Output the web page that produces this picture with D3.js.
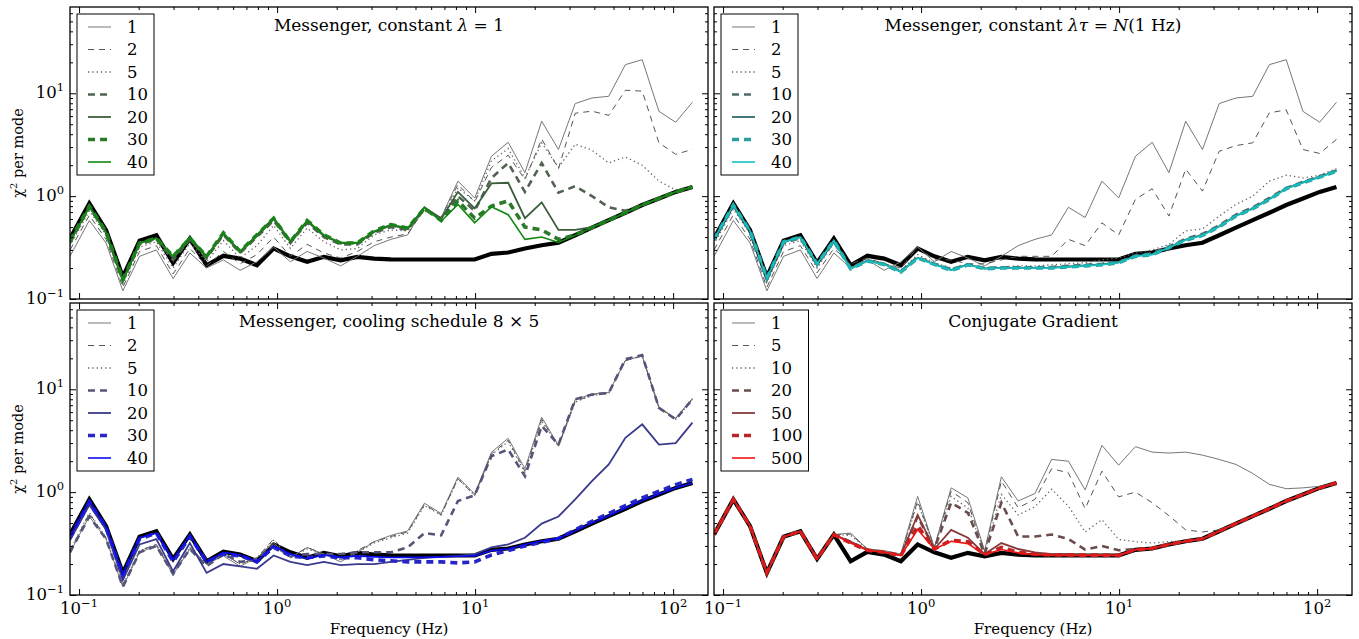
<!DOCTYPE html>
<html>
<head>
<meta charset="utf-8">
<script src="https://cdn.jsdelivr.net/npm/d3@7"></script>
<style>
  body { margin: 0; background: #fff; }
  svg { display: block; font-family: "DejaVu Serif", serif; }
</style>
</head>
<body>
<svg id="chart" width="1359" height="639"></svg>
<script>
// frequency bins (Hz)
const freqs = [0.09, 0.1127, 0.1369, 0.1664, 0.2021, 0.2457, 0.2985, 0.3627, 0.4407, 0.5355,
  0.6507, 0.7907, 0.9607, 1.167, 1.418, 1.723, 2.094, 2.544, 3.092, 3.757,
  4.565, 5.546, 6.739, 8.189, 9.95, 12.09, 14.69, 17.85, 21.69, 26.36,
  32.02, 38.9, 47.3, 57.4, 69.8, 84.8, 103.0, 125.2];

// thick black reference curve (same in every panel)
const converged = [0.387, 0.85, 0.467, 0.164, 0.368, 0.417, 0.224, 0.387, 0.213, 0.263,
  0.247, 0.213, 0.31, 0.26, 0.23, 0.257, 0.238, 0.257, 0.247, 0.243,
  0.242, 0.242, 0.242, 0.242, 0.242, 0.275, 0.283, 0.31, 0.333, 0.352,
  0.417, 0.495, 0.584, 0.69, 0.82, 0.95, 1.10, 1.23];

// first messenger iteration (shared by the three messenger panels)
const messenger1 = [0.26, 0.58, 0.35, 0.12, 0.26, 0.30, 0.158, 0.28, 0.2, 0.24,
  0.19, 0.23, 0.32, 0.23, 0.29, 0.25, 0.21, 0.26, 0.33, 0.38,
  0.42, 0.78, 0.62, 1.40, 0.96, 2.44, 3.34, 1.69, 5.35, 2.84,
  7.94, 9.0, 9.35, 19.0, 21.2, 6.68, 5.23, 8.18];

// Messenger, constant lambda = 1
const lam2 = [0.3, 0.65, 0.38, 0.13, 0.29, 0.33, 0.175, 0.31, 0.21, 0.29, 0.22, 0.27, 0.40, 0.26, 0.34, 0.28, 0.25, 0.29, 0.36, 0.40, 0.43, 0.74, 0.62, 1.3, 0.88, 1.9, 2.5, 1.45, 3.6, 1.85, 6.4, 6.7, 6.1, 10.7, 10.5, 3.3, 2.55, 2.85];
const lam5 = [0.33, 0.72, 0.42, 0.14, 0.32, 0.36, 0.2, 0.35, 0.23, 0.37, 0.25, 0.33, 0.52, 0.31, 0.49, 0.36, 0.3, 0.31, 0.42, 0.47, 0.46, 0.72, 0.6, 1.2, 0.9, 2.2, 2.9, 1.5, 3.3, 1.9, 3.2, 2.8, 2.1, 2.4, 2.0, 1.4, 1.15, 1.22];
const lam10 = [0.35, 0.78, 0.44, 0.15, 0.34, 0.38, 0.24, 0.38, 0.25, 0.42, 0.28, 0.4, 0.58, 0.35, 0.55, 0.4, 0.34, 0.34, 0.44, 0.5, 0.47, 0.75, 0.6, 1.0, 0.72, 1.5, 2.1, 1.1, 2.1, 1.08, 1.25, 1.0, 0.78, 0.72, 0.82, 0.95, 1.10, 1.23];
const lam20 = [0.36, 0.8, 0.45, 0.155, 0.35, 0.39, 0.25, 0.38, 0.26, 0.43, 0.29, 0.41, 0.6, 0.36, 0.57, 0.41, 0.35, 0.35, 0.45, 0.52, 0.48, 0.78, 0.6, 1.1, 0.76, 1.33, 1.35, 0.61, 0.87, 0.47, 0.47, 0.5, 0.585, 0.69, 0.82, 0.95, 1.10, 1.23];
const lam30 = [0.37, 0.8, 0.45, 0.155, 0.35, 0.39, 0.26, 0.39, 0.26, 0.44, 0.29, 0.42, 0.61, 0.36, 0.58, 0.42, 0.35, 0.35, 0.46, 0.53, 0.49, 0.76, 0.58, 0.9, 0.61, 0.8, 0.9, 0.5, 0.47, 0.38, 0.42, 0.495, 0.584, 0.69, 0.82, 0.95, 1.10, 1.23];
const lam40 = [0.36, 0.78, 0.44, 0.15, 0.35, 0.39, 0.26, 0.40, 0.26, 0.44, 0.29, 0.42, 0.62, 0.365, 0.58, 0.42, 0.353, 0.353, 0.457, 0.53, 0.49, 0.77, 0.57, 0.83, 0.55, 0.79, 0.66, 0.38, 0.40, 0.355, 0.417, 0.495, 0.584, 0.69, 0.82, 0.95, 1.10, 1.23];

// Messenger, constant lambda*tau = N(1 Hz)
const tau2 = [0.3, 0.66, 0.38, 0.13, 0.29, 0.33, 0.18, 0.31, 0.22, 0.25, 0.22, 0.2, 0.32, 0.24, 0.24, 0.22, 0.22, 0.24, 0.26, 0.26, 0.26, 0.38, 0.33, 0.55, 0.42, 0.93, 1.18, 0.64, 1.83, 1.12, 2.73, 3.1, 3.3, 6.45, 6.9, 2.84, 2.6, 3.56];
const tau5 = [0.34, 0.75, 0.43, 0.145, 0.33, 0.37, 0.2, 0.35, 0.2, 0.24, 0.22, 0.19, 0.27, 0.225, 0.2, 0.215, 0.2, 0.205, 0.21, 0.21, 0.215, 0.22, 0.225, 0.24, 0.25, 0.28, 0.3, 0.34, 0.46, 0.48, 0.64, 0.83, 1.0, 1.4, 1.6, 1.5, 1.6, 1.85];
const tau10 = [0.37, 0.8, 0.45, 0.155, 0.35, 0.39, 0.215, 0.36, 0.2, 0.238, 0.22, 0.187, 0.255, 0.22, 0.195, 0.218, 0.2, 0.203, 0.203, 0.203, 0.205, 0.21, 0.215, 0.22, 0.23, 0.265, 0.28, 0.325, 0.385, 0.43, 0.52, 0.66, 0.78, 0.96, 1.2, 1.38, 1.56, 1.78];
const tau20 = [0.38, 0.81, 0.46, 0.158, 0.36, 0.40, 0.22, 0.37, 0.198, 0.235, 0.218, 0.184, 0.252, 0.218, 0.192, 0.216, 0.198, 0.201, 0.201, 0.201, 0.202, 0.207, 0.212, 0.217, 0.227, 0.262, 0.273, 0.318, 0.378, 0.42, 0.51, 0.645, 0.76, 0.94, 1.19, 1.36, 1.54, 1.76];
const tau30 = [0.38, 0.82, 0.46, 0.16, 0.36, 0.40, 0.22, 0.37, 0.197, 0.234, 0.217, 0.183, 0.25, 0.217, 0.19, 0.215, 0.197, 0.2, 0.2, 0.2, 0.2, 0.205, 0.21, 0.215, 0.225, 0.26, 0.27, 0.315, 0.374, 0.415, 0.505, 0.64, 0.755, 0.93, 1.18, 1.35, 1.53, 1.75];
const tau40 = [0.38, 0.82, 0.46, 0.16, 0.36, 0.40, 0.22, 0.37, 0.197, 0.234, 0.217, 0.183, 0.25, 0.217, 0.19, 0.215, 0.197, 0.2, 0.2, 0.2, 0.2, 0.205, 0.21, 0.215, 0.225, 0.26, 0.27, 0.315, 0.374, 0.415, 0.505, 0.64, 0.755, 0.93, 1.18, 1.35, 1.53, 1.75];

// Messenger, cooling schedule 8 x 5
const cool2 = [0.27, 0.62, 0.36, 0.125, 0.27, 0.31, 0.16, 0.29, 0.2, 0.25, 0.2, 0.23, 0.35, 0.23, 0.29, 0.25, 0.22, 0.27, 0.33, 0.37, 0.41, 0.76, 0.6, 1.35, 0.93, 2.35, 3.2, 1.6, 5.1, 2.8, 7.6, 8.8, 9.2, 19.0, 21.0, 6.6, 5.2, 8.0];
const cool5 = [0.27, 0.63, 0.36, 0.125, 0.27, 0.31, 0.16, 0.29, 0.2, 0.25, 0.2, 0.23, 0.34, 0.23, 0.28, 0.25, 0.22, 0.26, 0.32, 0.36, 0.40, 0.74, 0.6, 1.35, 0.93, 2.3, 3.1, 1.55, 4.9, 2.8, 7.5, 8.7, 9.1, 19.2, 21.2, 6.6, 5.1, 8.0];
const cool10 = [0.26, 0.58, 0.35, 0.12, 0.26, 0.30, 0.16, 0.28, 0.19, 0.25, 0.21, 0.22, 0.3, 0.24, 0.25, 0.25, 0.25, 0.26, 0.26, 0.26, 0.29, 0.40, 0.38, 0.82, 0.93, 2.24, 2.6, 1.43, 4.4, 2.9, 8.0, 8.9, 9.2, 19.6, 21.5, 6.6, 5.1, 8.0];
const cool20 = [0.34, 0.75, 0.43, 0.14, 0.31, 0.35, 0.17, 0.32, 0.164, 0.2, 0.19, 0.18, 0.242, 0.21, 0.195, 0.21, 0.195, 0.2, 0.2, 0.21, 0.22, 0.23, 0.235, 0.24, 0.25, 0.29, 0.31, 0.36, 0.495, 0.58, 0.85, 1.28, 1.86, 3.38, 4.56, 2.9, 3.0, 4.74];
const cool30 = [0.36, 0.8, 0.45, 0.155, 0.35, 0.4, 0.21, 0.37, 0.21, 0.25, 0.24, 0.21, 0.29, 0.24, 0.23, 0.24, 0.23, 0.23, 0.22, 0.215, 0.21, 0.21, 0.21, 0.205, 0.21, 0.245, 0.27, 0.30, 0.325, 0.355, 0.43, 0.52, 0.62, 0.74, 0.88, 1.02, 1.18, 1.33];
const cool40 = [0.37, 0.83, 0.46, 0.16, 0.36, 0.40, 0.22, 0.38, 0.21, 0.26, 0.245, 0.212, 0.3, 0.25, 0.225, 0.245, 0.232, 0.24, 0.235, 0.232, 0.232, 0.232, 0.235, 0.238, 0.24, 0.27, 0.28, 0.31, 0.335, 0.355, 0.42, 0.5, 0.59, 0.7, 0.83, 0.96, 1.1, 1.22];

// Conjugate Gradient
const cg1 = [0.387, 0.85, 0.467, 0.164, 0.368, 0.417, 0.224, 0.387, 0.40, 0.28, 0.27, 0.25, 0.91, 0.29, 1.10, 0.88, 0.27, 1.41, 0.82, 0.97, 2.08, 2.0, 1.05, 2.85, 1.83, 2.77, 2.45, 2.4, 2.45, 2.29, 2.08, 1.86, 1.52, 1.19, 1.08, 1.1, 1.14, 1.22];
const cg5 = [0.387, 0.85, 0.467, 0.164, 0.368, 0.417, 0.224, 0.387, 0.39, 0.28, 0.265, 0.245, 0.82, 0.29, 1.02, 0.79, 0.26, 1.28, 0.705, 0.85, 1.69, 1.54, 0.69, 1.6, 0.9, 1.0, 0.79, 0.59, 0.43, 0.41, 0.43, 0.5, 0.585, 0.69, 0.82, 0.95, 1.10, 1.23];
const cg10 = [0.387, 0.85, 0.467, 0.164, 0.368, 0.417, 0.224, 0.387, 0.38, 0.28, 0.265, 0.245, 0.79, 0.29, 0.91, 0.70, 0.26, 0.95, 0.6, 0.72, 1.07, 0.73, 0.41, 0.54, 0.347, 0.33, 0.32, 0.33, 0.34, 0.36, 0.417, 0.495, 0.584, 0.69, 0.82, 0.95, 1.10, 1.23];
const cg20 = [0.387, 0.85, 0.467, 0.164, 0.368, 0.417, 0.224, 0.387, 0.33, 0.275, 0.26, 0.243, 0.58, 0.28, 0.79, 0.63, 0.25, 0.79, 0.37, 0.37, 0.387, 0.35, 0.276, 0.3, 0.272, 0.28, 0.285, 0.31, 0.333, 0.352, 0.417, 0.495, 0.584, 0.69, 0.82, 0.95, 1.10, 1.23];
const cg50 = [0.387, 0.85, 0.467, 0.164, 0.368, 0.417, 0.224, 0.387, 0.33, 0.275, 0.26, 0.243, 0.6, 0.28, 0.43, 0.36, 0.25, 0.32, 0.28, 0.26, 0.25, 0.25, 0.245, 0.245, 0.243, 0.276, 0.284, 0.31, 0.333, 0.352, 0.417, 0.495, 0.584, 0.69, 0.82, 0.95, 1.10, 1.23];
const cg100 = [0.387, 0.85, 0.467, 0.164, 0.368, 0.417, 0.224, 0.387, 0.32, 0.272, 0.26, 0.242, 0.47, 0.28, 0.34, 0.33, 0.247, 0.29, 0.26, 0.25, 0.245, 0.245, 0.244, 0.244, 0.243, 0.276, 0.284, 0.31, 0.333, 0.352, 0.417, 0.495, 0.584, 0.69, 0.82, 0.95, 1.10, 1.23];
const cg500 = [0.387, 0.85, 0.467, 0.164, 0.368, 0.417, 0.224, 0.387, 0.32, 0.272, 0.26, 0.242, 0.433, 0.28, 0.333, 0.316, 0.247, 0.277, 0.257, 0.247, 0.244, 0.243, 0.243, 0.243, 0.243, 0.276, 0.284, 0.31, 0.333, 0.352, 0.417, 0.495, 0.584, 0.69, 0.82, 0.95, 1.10, 1.23];

const messengerLabels = ['1', '2', '5', '10', '20', '30', '40'];
const cgLabels = ['1', '5', '10', '20', '50', '100', '500'];

const xMajor = [0.1, 1, 10, 100];
const yMajor = [0.1, 1, 10];

// line styles by legend position (same pattern in every panel)
const lineStyles = [
  { w: 1.0, dash: null },
  { w: 1.0, dash: '6,5' },
  { w: 1.3, dash: '1.3,3' },
  { w: 2.6, dash: '7,5' },
  { w: 1.8, dash: null },
  { w: 3.6, dash: '7,5' },
  { w: 1.6, dash: null },
];

const panels = [
  { col: 0, row: 0, labels: messengerLabels,
    colors: ['#777', '#555', '#666', '#506250', '#3a5e3a', '#2a7a2a', '#118811'],
    series: [messenger1, lam2, lam5, lam10, lam20, lam30, lam40],
    title: t => { t.append('tspan').text('Messenger, constant '); t.append('tspan').attr('font-style', 'italic').text('λ'); t.append('tspan').text(' = 1'); } },
  { col: 1, row: 0, labels: messengerLabels,
    colors: ['#777', '#555', '#666', '#4e6a6a', '#2e6a6a', '#2a9e9e', '#15c0c0'],
    series: [messenger1, tau2, tau5, tau10, tau20, tau30, tau40],
    title: t => { t.append('tspan').text('Messenger, constant '); t.append('tspan').attr('font-style', 'italic').text('λτ'); t.append('tspan').text(' = '); t.append('tspan').attr('font-style', 'italic').text('N'); t.append('tspan').text('(1 Hz)'); } },
  { col: 0, row: 1, labels: messengerLabels,
    colors: ['#777', '#555', '#666', '#55557a', '#3a3a8c', '#2626c8', '#0c0cf0'],
    series: [messenger1, cool2, cool5, cool10, cool20, cool30, cool40],
    title: t => { t.append('tspan').text('Messenger, cooling schedule 8 × 5'); } },
  { col: 1, row: 1, labels: cgLabels,
    colors: ['#777', '#555', '#666', '#6a4c4c', '#883a3a', '#bb2424', '#ee1515'],
    series: [cg1, cg5, cg10, cg20, cg50, cg100, cg500],
    title: t => { t.append('tspan').text('Conjugate Gradient'); } },
];

const W = 638, H = 292;
const left0 = 70, top0 = 7, gapX = 6, gapY = 4;

const x = d3.scaleLog().domain([0.09, 150]).range([0, W]);
const y = d3.scaleLog().domain([0.1, 69]).range([H, 0]);

const xMinor = [];
[0.1, 1, 10, 100].forEach(d => { for (let k = 2; k <= 9; k++) if (d * k < 150) xMinor.push(d * k); });
const yMinor = [];
[0.1, 1, 10].forEach(d => { for (let k = 2; k <= 9; k++) if (d * k < 69) yMinor.push(d * k); });

const line = d3.line().x((d, i) => x(freqs[i])).y(d => y(d));

const svg = d3.select('#chart');

function powerLabel(sel, exp) {
  sel.append('tspan').text('10');
  sel.append('tspan').attr('font-size', 11.5).attr('dy', -7).text(exp < 0 ? '−' + (-exp) : exp);
}

panels.forEach((p, pi) => {
  const px = left0 + p.col * (W + gapX);
  const py = top0 + p.row * (H + gapY);
  const g = svg.append('g').attr('transform', `translate(${px},${py})`);

  g.append('clipPath').attr('id', 'clip' + pi)
    .append('rect').attr('width', W).attr('height', H);

  const plot = g.append('g').attr('clip-path', `url(#clip${pi})`);

  plot.append('path')
    .attr('d', line(converged))
    .attr('fill', 'none')
    .attr('stroke', '#000')
    .attr('stroke-width', 4.2)
    .attr('stroke-linejoin', 'miter');

  p.series.forEach((s, k) => {
    const st = lineStyles[k];
    plot.append('path')
      .attr('d', line(s))
      .attr('fill', 'none')
      .attr('stroke', p.colors[k])
      .attr('stroke-width', st.w)
      .attr('stroke-dasharray', st.dash)
      .attr('stroke-linejoin', 'miter');
  });

  // inward ticks on all four sides
  const tickSets = [
    [d3.axisBottom, `translate(0,${H})`, x, xMajor, xMinor],
    [d3.axisTop, 'translate(0,0)', x, xMajor, xMinor],
    [d3.axisLeft, 'translate(0,0)', y, yMajor, yMinor],
    [d3.axisRight, `translate(${W},0)`, y, yMajor, yMinor],
  ];
  tickSets.forEach(([axisFn, tr, sc, major, minor]) => {
    [[major, 6], [minor, 3]].forEach(([vals, len]) => {
      const a = g.append('g').attr('transform', tr)
        .call(axisFn(sc).tickValues(vals).tickSize(-len).tickFormat(''));
      a.select('.domain').remove();
      a.selectAll('line').attr('stroke', '#000').attr('stroke-width', 1);
    });
  });

  g.append('rect')
    .attr('width', W).attr('height', H)
    .attr('fill', 'none').attr('stroke', '#000').attr('stroke-width', 1.3);

  // title
  const title = g.append('text')
    .attr('x', W / 2).attr('y', 24)
    .attr('text-anchor', 'middle')
    .attr('font-size', 17);
  p.title(title);

  // y tick labels + axis label on left column
  if (p.col === 0) {
    yMajor.forEach(v => {
      const t = g.append('text')
        .attr('x', -6).attr('y', y(v) + 5)
        .attr('text-anchor', 'end')
        .attr('font-size', 16.5);
      powerLabel(t, Math.round(Math.log10(v)));
    });
    const yl = g.append('text')
      .attr('transform', `translate(-47,${H / 2}) rotate(-90)`)
      .attr('text-anchor', 'middle')
      .attr('font-size', 14.5);
    yl.append('tspan').text('χ');
    yl.append('tspan').attr('font-size', 10).attr('dy', -6).text('2');
    yl.append('tspan').attr('dy', 6).text(' per mode');
  }

  // x tick labels + axis label on bottom row
  if (p.row === 1) {
    xMajor.forEach(v => {
      const t = g.append('text')
        .attr('x', x(v)).attr('y', H + 19)
        .attr('text-anchor', 'middle')
        .attr('font-size', 16.5);
      powerLabel(t, Math.round(Math.log10(v)));
    });
    g.append('text')
      .attr('x', W / 2).attr('y', H + 39)
      .attr('text-anchor', 'middle')
      .attr('font-size', 15)
      .text('Frequency (Hz)');
  }

  // legend
  const lg = g.append('g').attr('transform', 'translate(7,7)');
  const box = lg.append('rect').attr('fill', '#fff').attr('stroke', '#000').attr('stroke-width', 1);
  let maxW = 0;
  p.labels.forEach((lab, k) => {
    const st = lineStyles[k];
    const cy = 13 + k * 22.5;
    lg.append('line')
      .attr('x1', 11).attr('x2', 34).attr('y1', cy).attr('y2', cy)
      .attr('stroke', p.colors[k])
      .attr('stroke-width', st.w)
      .attr('stroke-dasharray', st.dash);
    const t = lg.append('text')
      .attr('x', 50).attr('y', cy + 5.5)
      .attr('font-size', 16.5)
      .text(lab);
    maxW = Math.max(maxW, t.node().getComputedTextLength());
  });
  box.attr('width', 50 + maxW + 6).attr('height', 161);
});
</script>
</body>
</html>
